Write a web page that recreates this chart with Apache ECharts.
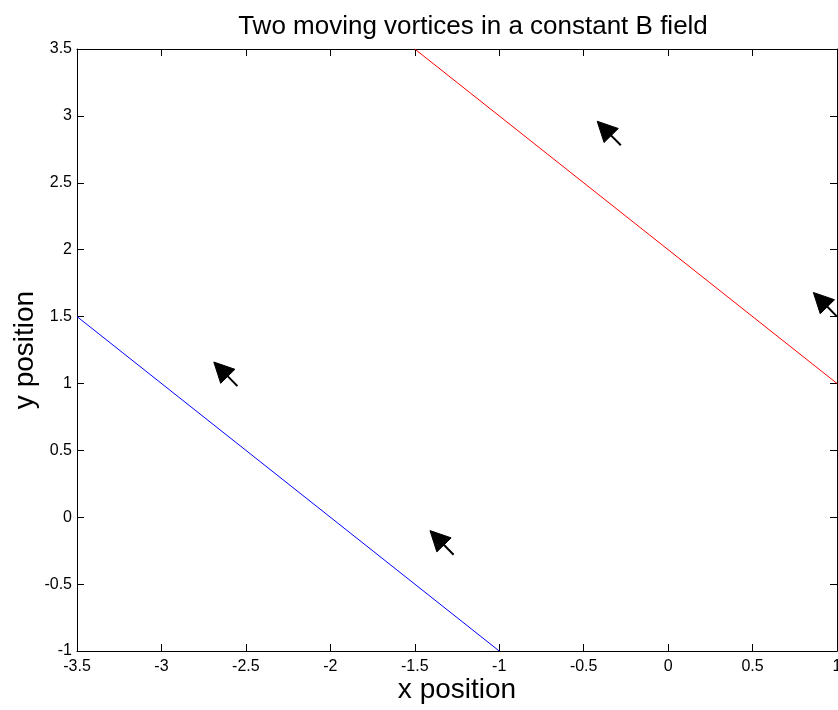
<!DOCTYPE html>
<html>
<head>
<meta charset="utf-8">
<script src="https://cdn.jsdelivr.net/npm/echarts@6/dist/echarts.min.js"></script>
<style>
  html, body { margin: 0; padding: 0; background: #fff; }
  #chart { width: 838px; height: 710px; }
</style>
</head>
<body>
<div id="chart"></div>
<script>
// Vortex trajectories (straight paths, slope -1)
const redX = [-1.5, 1.0];
const redY = [3.5, 1.0];
const blueX = [-3.5, -1.0];
const blueY = [1.5, -1.0];

// Velocity arrows: tail position and vector components
const arrowX = [-0.28, 1.0, -2.55, -1.27];
const arrowY = [2.78, 1.5, 0.98, -0.28];
const arrowU = [-0.14, -0.14, -0.14, -0.14];
const arrowV = [0.18, 0.18, 0.18, 0.18];

const FONT = '"Liberation Sans", Arial, Helvetica, sans-serif';

const chart = echarts.init(document.getElementById('chart'), null, { renderer: 'canvas' });

function pairs(xs, ys) { return xs.map((x, i) => [x, ys[i]]); }

const arrowData = arrowX.map((x, i) => [x, arrowY[i], arrowU[i], arrowV[i]]);

function renderArrow(params, api) {
  const x = api.value(0), y = api.value(1), u = api.value(2), v = api.value(3);
  const p0 = api.coord([x, y]);
  const p1 = api.coord([x + u, y + v]);
  const dx = p1[0] - p0[0], dy = p1[1] - p0[1];
  const len = Math.sqrt(dx * dx + dy * dy);
  const ux = dx / len, uy = dy / len;
  const headLen = Math.min(20, len * 0.62);
  const halfW = 10;
  const bx = p1[0] - ux * headLen, by = p1[1] - uy * headLen;
  const nx = -uy, ny = ux;
  const cs = params.coordSys;
  return {
    type: 'group',
    clipPath: { type: 'rect', shape: { x: cs.x, y: cs.y, width: cs.width, height: cs.height } },
    children: [
      {
        type: 'line',
        shape: { x1: p0[0], y1: p0[1], x2: bx + ux * 2, y2: by + uy * 2 },
        style: { stroke: '#000', lineWidth: 2 }
      },
      {
        type: 'polygon',
        shape: { points: [[p1[0], p1[1]], [bx + nx * halfW, by + ny * halfW], [bx - nx * halfW, by - ny * halfW]] },
        style: { fill: '#000', stroke: '#000', lineWidth: 1 }
      }
    ]
  };
}

const tickStyle = { show: true, inside: true, length: 7, lineStyle: { color: '#000', width: 1 } };
const lineStyle = { show: true, onZero: false, lineStyle: { color: '#000', width: 1 } };
const labelStyle = { color: '#000', fontFamily: FONT, fontSize: 16 };

chart.setOption({
  animation: false,
  backgroundColor: '#fff',
  title: {
    text: 'Two moving vortices in a constant B field',
    left: 468,
    textAlign: 'center',
    top: 9,
    textStyle: { color: '#000', fontFamily: FONT, fontSize: 26, fontWeight: 'normal' }
  },
  grid: { left: 77, right: 1, top: 49, bottom: 59, containLabel: false, outerBoundsMode: 'none' },
  xAxis: [
    {
      type: 'value', min: -3.5, max: 1, interval: 0.5, position: 'bottom',
      name: 'x position', nameLocation: 'middle', nameGap: 25, nameMoveOverlap: false,
      nameTextStyle: { color: '#000', fontFamily: FONT, fontSize: 28 },
      axisLine: lineStyle, axisTick: tickStyle, splitLine: { show: false },
      axisLabel: Object.assign({ margin: 8, showMinLabel: true, showMaxLabel: true }, labelStyle)
    },
    {
      type: 'value', min: -3.5, max: 1, interval: 0.5, position: 'top',
      axisLine: lineStyle, axisTick: tickStyle, splitLine: { show: false },
      axisLabel: { show: false }
    }
  ],
  yAxis: [
    {
      type: 'value', min: -1, max: 3.5, interval: 0.5, position: 'left',
      name: 'y position', nameLocation: 'middle', nameGap: 38, nameMoveOverlap: false,
      nameTextStyle: { color: '#000', fontFamily: FONT, fontSize: 28 },
      axisLine: lineStyle, axisTick: tickStyle, splitLine: { show: false },
      axisLabel: Object.assign({ margin: 5, showMinLabel: true, showMaxLabel: true }, labelStyle)
    },
    {
      type: 'value', min: -1, max: 3.5, interval: 0.5, position: 'right',
      axisLine: lineStyle, axisTick: tickStyle, splitLine: { show: false },
      axisLabel: { show: false }
    }
  ],
  series: [
    {
      type: 'line', data: pairs(redX, redY), xAxisIndex: 0, yAxisIndex: 0,
      showSymbol: false, symbol: 'none', lineStyle: { color: '#ff0000', width: 1 }, clip: true
    },
    {
      type: 'line', data: pairs(blueX, blueY), xAxisIndex: 0, yAxisIndex: 0,
      showSymbol: false, symbol: 'none', lineStyle: { color: '#0000ff', width: 1 }, clip: true
    },
    {
      type: 'custom', xAxisIndex: 0, yAxisIndex: 0, clip: true,
      renderItem: renderArrow, data: arrowData, silent: true
    }
  ]
});
</script>
</body>
</html>
